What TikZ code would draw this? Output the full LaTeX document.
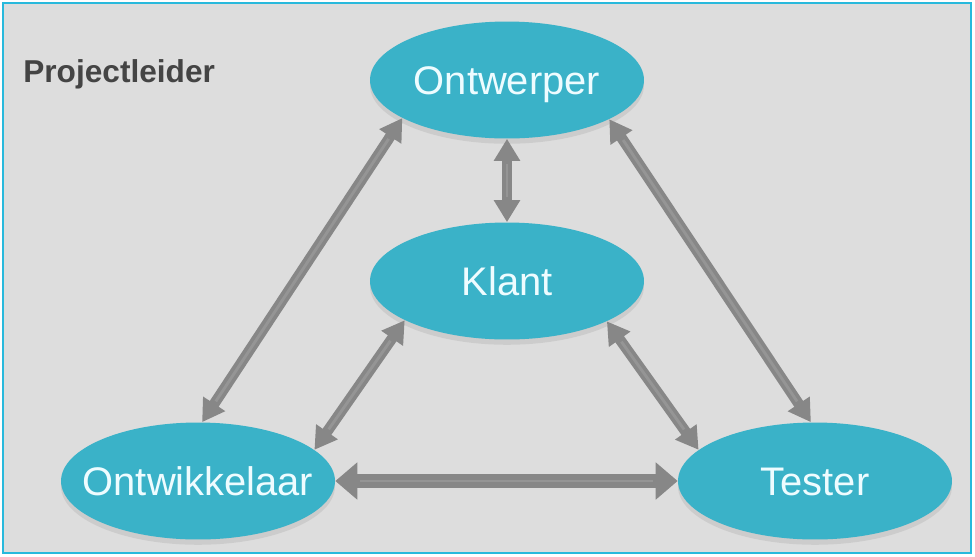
\documentclass[tikz,border=0pt]{standalone}
\usepackage{fontspec}
\setmainfont{Liberation Sans}
\usetikzlibrary{arrows.meta,shapes.geometric,shadows}
\definecolor{rolblauw}{RGB}{58,178,200}
\definecolor{achtergrond}{RGB}{221,221,221}
\definecolor{kader}{RGB}{40,185,220}
\definecolor{pijlgrijs}{RGB}{135,135,135}
\definecolor{tekstgrijs}{RGB}{68,68,68}
\definecolor{rolwit}{RGB}{238,252,255}

\begin{document}
\begin{tikzpicture}[x=0.02cm, y=-0.02cm,
		rol/.style={ellipse, fill=rolblauw, text=rolwit, minimum width=5.48cm, minimum height=2.34cm, inner sep=0pt, inner xsep=-1.5cm, text height=16pt, text depth=0pt, font=\fontsize{22.7}{27}\selectfont, drop shadow={opacity=0.18, shadow xshift=0pt, shadow yshift=-3pt}},
		pijl/.style={pijlgrijs, line width=6pt, >={Triangle[width=0.5cm,length=0.44cm]}, <->, postaction={draw=white, draw opacity=0.12, line width=1.6pt, arrows=-, shorten <=0.5cm, shorten >=0.5cm}}]
			\fill[white] (0,0) rectangle (975,556);
			\fill[achtergrond] (3,3) rectangle (971,553);
			\draw[kader, line width=1.2pt] (3,3) rectangle (971,553);
			\node (projectleider) at (23,74) [anchor=west, inner sep=0pt, text=tekstgrijs, font=\bfseries\fontsize{18}{22}\selectfont] {Projectleider};
			\node (ontwerper) at (507,80) [rol] {Ontwerper};
			\node (klant) at (507,281) [rol] {Klant};
			\node (ontwikkelaar) at (198,481) [rol] {Ontwikkelaar};
			\node (tester) at (815,481) [rol] {Tester};
			\draw[pijl] (ontwerper.200) -- (ontwikkelaar.86);
			\draw[pijl] (ontwerper.339) -- (tester.94);
			\draw[pijl] (ontwerper.south) -- (klant.north);
			\draw[pijl] (klant.201) -- (ontwikkelaar.15);
			\draw[pijl] (klant.338) -- (tester.165);
			\draw[pijl, line width=7.5pt, >={Triangle[width=0.72cm,length=0.44cm]}] (ontwikkelaar.east) -- (tester.west);
		\end{tikzpicture}
\end{document}
